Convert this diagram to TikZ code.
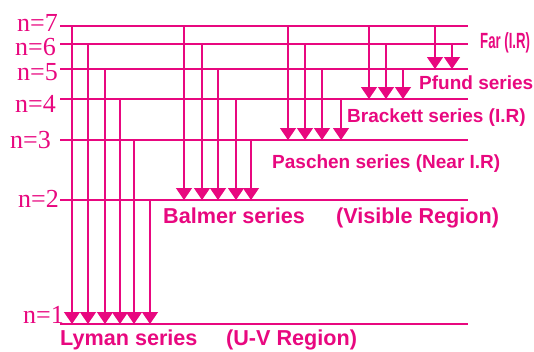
\documentclass[tikz,border=0pt]{standalone}
\usepackage{fontspec}
\setmainfont{Liberation Serif}
\newfontfamily\cimfont{Liberation Sans}
\newfontfamily\szukfont[FakeStretch=0.6]{Liberation Sans}
\usetikzlibrary{arrows.meta}
\definecolor{rubin}{HTML}{E8087F}
\tikzset{
  szint/.style={rubin,line width=1.4pt},
  nyil/.style={rubin,line width=1.4pt,-{Triangle[length=12pt,width=16pt]}},
  nlab/.style={anchor=base west,text=rubin,inner sep=0pt,font=\fontsize{26}{26}\selectfont},
  sor/.style={anchor=base west,text=rubin,inner sep=0pt,font=\cimfont\bfseries\fontsize{19}{19}\selectfont},
  nagysor/.style={sor,font=\cimfont\bfseries\fontsize{21.6}{21.6}\selectfont},
}
\begin{document}
\begin{tikzpicture}[x=1pt,y=-1pt]
  \useasboundingbox (0,0) rectangle (534,351);
  % energy levels
  \foreach \n/\y/\lx/\ly in {7/26/17/31,6/44/15/55,5/69/17/80,4/99/15/112,3/140/10/148,2/200/18/207,1/324/23/323} {
    \coordinate (lv\n) at (60,\y);
    \coordinate (lv\n e) at (468,\y);
    \draw[szint] (lv\n) -- (lv\n e);
    \node[nlab] (n\n) at (\lx,\ly) {n=\n};
  }
  % transitions
  \foreach \x/\u in {72/7,88/6,105/5,120/4,134/3,150/2}
    \draw[nyil] (\x,0 |- lv\u) -- (\x,0 |- lv1);
  \foreach \x/\u in {184/7,202/6,218/5,236/4,251/3}
    \draw[nyil] (\x,0 |- lv\u) -- (\x,0 |- lv2);
  \foreach \x/\u in {288/7,305/6,322/5,341/4}
    \draw[nyil] (\x,0 |- lv\u) -- (\x,0 |- lv3);
  \foreach \x/\u in {369/7,386/6,403/5}
    \draw[nyil] (\x,0 |- lv\u) -- (\x,0 |- lv4);
  \foreach \x/\u in {435/7,452/6}
    \draw[nyil] (\x,0 |- lv\u) -- (\x,0 |- lv5);
  % series names
  \node[nagysor] (lyman) at (60,345) {Lyman series};
  \node[nagysor] (uv) at (226,345) {(U-V Region)};
  \node[nagysor] (balmer) at (163,223) {Balmer series};
  \node[nagysor] (vis) at (336,223) {(Visible Region)};
  \node[sor] (paschen) at (272,168) {Paschen series (Near I.R)};
  \node[sor] (brackett) at (347,122) {Brackett series (I.R)};
  \node[sor] (pfund) at (419,89) {Pfund series};
  \node[sor,font=\szukfont\bfseries\fontsize{22}{22}\selectfont] (far) at (480,48) {Far (I.R)};
\end{tikzpicture}
\end{document}
